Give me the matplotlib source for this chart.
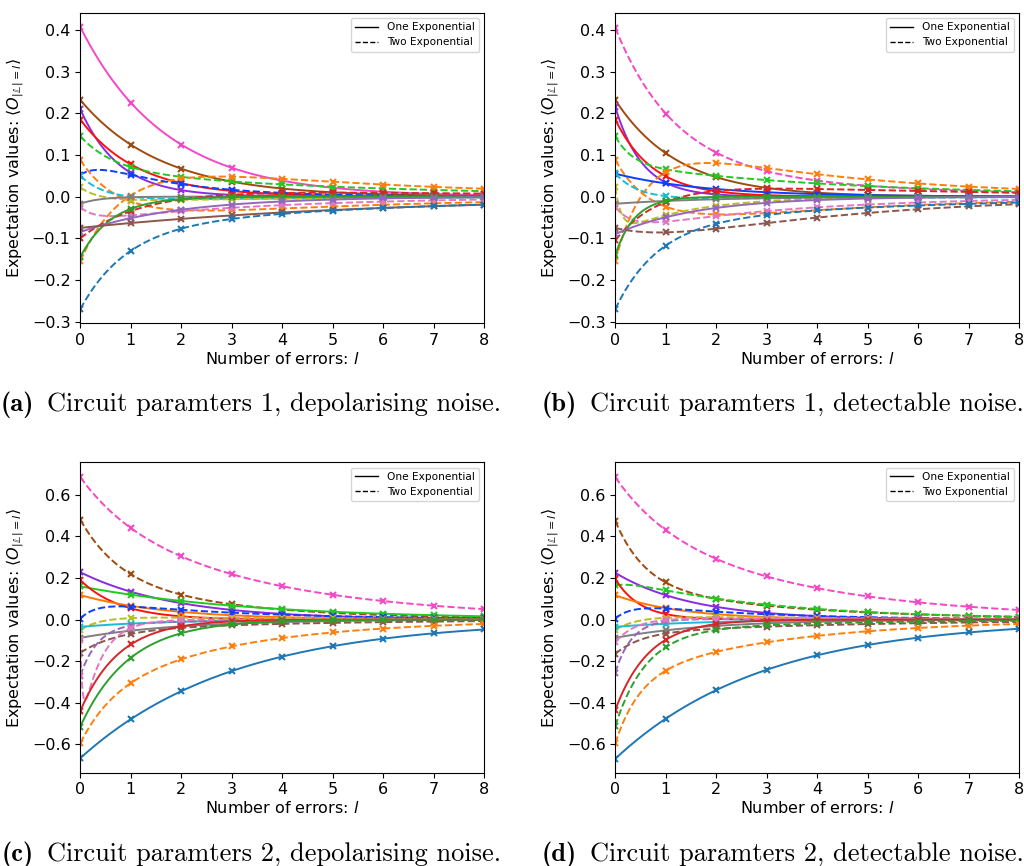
import numpy as np
import matplotlib
matplotlib.use("Agg")
import matplotlib.pyplot as plt
from matplotlib.lines import Line2D

# ---------------- data (fit parameters) ----------------
errors = np.arange(0, 9)                 # number of errors l (marker positions)
x_min, x_max = 0, 8

# model: y(l) = amp1*exp(-rate1*l) + amp2*exp(-rate2*l)   (amp2 = 0 -> one exponential)

# (a) circuit parameters 1, depolarising noise
a_model = ["one", "one", "one", "one", "two", "two", "two", "two", "two",
           "two", "one", "two", "two", "one", "one", "one", "two"]
a_amp1 = [0.407, 0.232, 0.21, 0.185, 0.08, 0.153, -0.265, -0.048, 0.06,
          0.035, -0.017, 0.035, -0.125, -0.145, -0.085, -0.075, -0.19]
a_rate1 = [0.59, 0.62, 1.3, 0.87, 1.5, 1.3, 1.13, 3.0, 2.0,
           2.5, 2.5, 3.5, 0.8, 1.6, 0.5, 0.17, 1.1]
a_amp2 = [0, 0, 0, 0, 0.065, -0.065, 0.11, 0.1, -0.01,
          -0.013, 0, -0.06, 0.025, 0, 0, 0, -0.08]
a_rate2 = [0, 0, 0, 0, 0.2, 0.2, 0.22, 0.6, 0.2,
           0.25, 0, 0.27, 0.15, 0, 0, 0, 0.18]

# (b) circuit parameters 1, detectable noise
b_model = ["two", "one", "one", "one", "two", "two", "two", "one", "two",
           "two", "one", "two", "two", "one", "one", "two", "two"]
b_amp1 = [0.33, 0.232, 0.215, 0.185, 0.067, 0.178, -0.315, 0.055, 0.063,
          0.112, -0.017, 0.06, -0.15, -0.14, -0.09, 0.076, -0.2]
b_rate1 = [0.85, 0.8, 1.85, 1.33, 3.0, 1.35, 1.6, 0.55, 2.2,
           8.0, 0.5, 3.0, 1.1, 2.6, 0.6, 0.93, 1.2]
b_amp2 = [0.075, 0, 0, 0, 0.078, -0.09, 0.16, 0, -0.007,
          -0.09, 0, -0.085, 0.045, 0, 0, -0.151, -0.07]
b_rate2 = [0.25, 0, 0, 0, 0.225, 0.25, 0.27, 0, 0.2,
           0.7, 0, 0.3, 0.2, 0, 0, 0.266, 0.2]

# (c) circuit parameters 2, depolarising noise
c_model = ["two", "two", "one", "one", "one", "one", "two", "two", "one",
           "one", "two", "two", "two", "one", "one", "two", "one"]
c_amp1 = [0.192, 0.26, 0.228, 0.16, 0.19, 0.118, -0.09, -0.065, -0.035,
          -0.088, -0.105, -0.25, 0.45, -0.44, -0.515, -0.221, -0.667]
c_rate1 = [1.0, 1.34, 0.53, 0.29, 1.25, 0.58, 3.0, 2.5, 0.6,
           0.5, 1.39, 2.8, 25.0, 1.3, 1.03, 1.59, 0.33]
c_amp2 = [0.493, 0.221, 0, 0, 0, 0, 0.095, 0.015, 0,
          0, -0.055, -0.02, -0.55, 0, 0, -0.374, 0]
c_rate2 = [0.286, 0.387, 0, 0, 0, 0, 0.35, 0.2, 0,
           0, 0.25, 0.4, 2.6, 0, 0, 0.36, 0]

# (d) circuit parameters 2, detectable noise
d_model = ["two", "two", "one", "two", "one", "one", "two", "two", "one",
           "one", "two", "two", "two", "one", "two", "two", "one"]
d_amp1 = [0.215, 0.305, 0.225, -0.035, 0.195, 0.117, -0.08, -0.07, -0.035,
          -0.088, -0.1, -0.26, -0.12, -0.435, -0.452, -0.302, -0.67]
d_rate1 = [1.0, 1.71, 0.65, 3.0, 2.0, 0.75, 3.0, 2.3, 0.55,
           0.53, 1.9, 3.0, 2.5, 1.5, 1.63, 2.15, 0.34]
d_amp2 = [0.47, 0.17, 0, 0.2, 0, 0, 0.085, 0.02, 0,
          0, -0.065, 0.005, 0.01, 0, -0.06, -0.293, 0]
d_rate2 = [0.29, 0.32, 0, 0.34, 0, 0, 0.4, 0.25, 0,
           0, 0.22, 0.3, 0.3, 0, 0.3, 0.33, 0]

# axis ranges and ticks
top_ylim = (-0.304, 0.4415)
top_yticks = [-0.3, -0.2, -0.1, 0.0, 0.1, 0.2, 0.3, 0.4]
bottom_ylim = (-0.737, 0.757)
bottom_yticks = [-0.6, -0.4, -0.2, 0.0, 0.2, 0.4, 0.6]
xticks = [0, 1, 2, 3, 4, 5, 6, 7, 8]

captions = [("(a)", "Circuit paramters 1, depolarising noise."),
            ("(b)", "Circuit paramters 1, detectable noise."),
            ("(c)", "Circuit paramters 2, depolarising noise."),
            ("(d)", "Circuit paramters 2, detectable noise.")]

# ---------------- styles ----------------
PINK_B, BROWN_B, PURPLE_B, RED_B = "#f448c6", "#a04a10", "#8a2be2", "#ff1010"
GREEN_B, BLUE_B, ORANGE_B = "#22c922", "#0a40ff", "#ff7700"
a_colors = [PINK_B, BROWN_B, PURPLE_B, RED_B, GREEN_B, "tab:orange", "tab:orange",
            BLUE_B, "tab:cyan", "tab:olive", "tab:gray", "tab:pink", "tab:red",
            "tab:green", "tab:purple", "tab:brown", "tab:blue"]
b_colors = [PINK_B, BROWN_B, PURPLE_B, RED_B, GREEN_B, "tab:orange", "tab:orange",
            BLUE_B, "tab:cyan", "tab:olive", "tab:gray", "tab:pink", "tab:red",
            "tab:green", "tab:purple", "tab:brown", "tab:blue"]
c_colors = [PINK_B, BROWN_B, PURPLE_B, GREEN_B, RED_B, ORANGE_B, BLUE_B,
            "tab:olive", "tab:cyan", "tab:gray", "tab:brown", "tab:purple",
            "tab:pink", "tab:red", "tab:green", "tab:orange", "tab:blue"]
d_colors = [PINK_B, BROWN_B, PURPLE_B, GREEN_B, RED_B, ORANGE_B, BLUE_B,
            "tab:olive", "tab:cyan", "tab:gray", "tab:brown", "tab:purple",
            "tab:pink", "tab:red", "tab:green", "tab:orange", "tab:blue"]

W, H = 1024, 866
fig = plt.figure(figsize=(W / 100, H / 100), dpi=100)

# axes boxes in pixels: left, top, right, bottom
boxes = [(80.3, 12.7, 484.0, 323.3), (615.3, 12.7, 1019.0, 323.3),
         (80.3, 462.3, 484.0, 772.7), (615.3, 462.3, 1019.0, 772.7)]

panels = [
    (a_model, a_amp1, a_rate1, a_amp2, a_rate2, a_colors, top_ylim, top_yticks),
    (b_model, b_amp1, b_rate1, b_amp2, b_rate2, b_colors, top_ylim, top_yticks),
    (c_model, c_amp1, c_rate1, c_amp2, c_rate2, c_colors, bottom_ylim, bottom_yticks),
    (d_model, d_amp1, d_rate1, d_amp2, d_rate2, d_colors, bottom_ylim, bottom_yticks),
]

xf = np.linspace(x_min, x_max, 600)
FS = 11.5

for (model, amp1, rate1, amp2, rate2, colors, ylim, yticks), (l, t, r, b) in zip(panels, boxes):
    ax = fig.add_axes([l / W, 1 - b / H, (r - l) / W, (b - t) / H])
    for m, A1, k1, A2, k2, col in zip(model, amp1, rate1, amp2, rate2, colors):
        ls = "-" if m == "one" else "--"
        yf = A1 * np.exp(-k1 * xf) + A2 * np.exp(-k2 * xf)
        yp = A1 * np.exp(-k1 * errors) + A2 * np.exp(-k2 * errors)
        ax.plot(xf, yf, ls=ls, color=col, lw=1.4)
        ax.plot(errors, yp, ls="none", marker="x", color=col, ms=5, mew=1.5)
    ax.set_xlim(x_min, x_max)
    ax.set_ylim(*ylim)
    ax.set_xticks(xticks)
    ax.set_yticks(yticks)
    ax.tick_params(labelsize=FS)
    ax.set_xlabel("Number of errors: $l$", fontsize=FS, labelpad=2)
    ax.set_ylabel(r"Expectation values: $\langle O_{|\mathbb{L}|=l}\rangle$", fontsize=FS, labelpad=4)
    handles = [Line2D([], [], color="black", lw=1.0, ls="-"),
               Line2D([], [], color="black", lw=1.0, ls="--")]
    ax.legend(handles, ["One Exponential", "Two Exponential"], loc="upper right",
              fontsize=7.6, handlelength=2.2, borderaxespad=0.5)

# captions
cap_pos = [(47, 411), (590, 411), (47, 861), (590, 861)]
for (lab, txt), (x, y) in zip(captions, cap_pos):
    fig.text((x - 13) / W, 1 - y / H, lab, family="cmb10", fontsize=19,
             ha="right", va="baseline")
    fig.text(x / W, 1 - y / H, txt, family="cmr10", fontsize=19,
             ha="left", va="baseline")

fig.savefig("out.png", dpi=100)
